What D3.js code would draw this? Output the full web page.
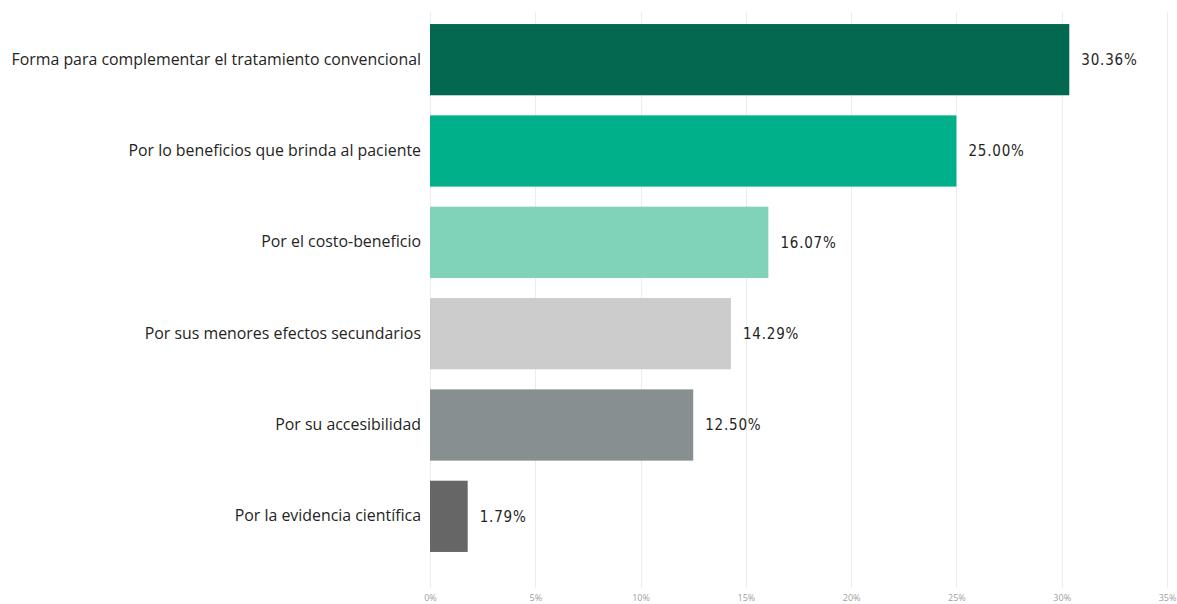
<!DOCTYPE html>
<html>
<head>
<meta charset="utf-8">
<script src="https://cdn.jsdelivr.net/npm/d3@7"></script>
<style>
  html, body { margin: 0; padding: 0; background: #fff; }
  svg { display: block; }
</style>
</head>
<body>
<svg id="chart" width="1177" height="604"></svg>
<script>
// Reasons given, share of respondents (%)
const categories = [
  "Forma para complementar el tratamiento convencional",
  "Por lo beneficios que brinda al paciente",
  "Por el costo-beneficio",
  "Por sus menores efectos secundarios",
  "Por su accesibilidad",
  "Por la evidencia científica"
];
const values = [30.36, 25.00, 16.07, 14.29, 12.50, 1.79];
const barColors = ["#03684f", "#00b08a", "#80d2b8", "#cccccc", "#878f90", "#666666"];
const tickValues = [0, 5, 10, 15, 20, 25, 30, 35];

const svg = d3.select("#chart");

const x = d3.scaleLinear().domain([0, 35]).range([430, 1167]);
const y = d3.scaleBand().domain(categories).range([14, 562])
  .paddingInner(0.22).paddingOuter(0.11);

// vertical grid lines
svg.append("g")
  .selectAll("line")
  .data(tickValues)
  .join("line")
  .attr("x1", d => Math.round(x(d)) + 0.5)
  .attr("x2", d => Math.round(x(d)) + 0.5)
  .attr("y1", 12)
  .attr("y2", 588)
  .attr("stroke", "#ececec")
  .attr("stroke-width", 1);

// x axis tick labels
const xAxis = d3.axisBottom(x).tickValues(tickValues).tickFormat(d => d + "%").tickSize(0);
const gx = svg.append("g").attr("transform", "translate(0,592)").call(xAxis);
gx.select(".domain").remove();
gx.selectAll("text")
  .attr("fill", "#a0a0a0")
  .style("font-family", "'Open Sans', 'Noto Sans', sans-serif")
  .style("font-size", "9px");

// bars
svg.append("g")
  .selectAll("rect")
  .data(values)
  .join("rect")
  .attr("x", x(0))
  .attr("y", (d, i) => y(categories[i]))
  .attr("width", d => x(d) - x(0))
  .attr("height", y.bandwidth())
  .attr("fill", (d, i) => barColors[i]);

// category labels
const yAxis = d3.axisLeft(y).tickSize(0).tickPadding(9);
const gy = svg.append("g").attr("transform", `translate(${x(0)},0)`).call(yAxis);
gy.select(".domain").remove();
gy.selectAll("text")
  .attr("fill", "#252423")
  .style("font-family", "'Open Sans', 'Noto Sans', sans-serif")
  .style("font-size", "15.9px");

// value labels
svg.append("g")
  .selectAll("text")
  .data(values)
  .join("text")
  .attr("x", d => x(d) + 12)
  .attr("y", (d, i) => y(categories[i]) + y.bandwidth() / 2)
  .attr("dy", "0.35em")
  .attr("fill", "#252423")
  .style("font-family", "'DejaVu Sans Condensed', 'Roboto', sans-serif")
  .style("font-size", "15px")
  .style("font-weight", "500")
  .style("letter-spacing", "0.8px")
  .text(d => d.toFixed(2) + "%");
</script>
</body>
</html>
